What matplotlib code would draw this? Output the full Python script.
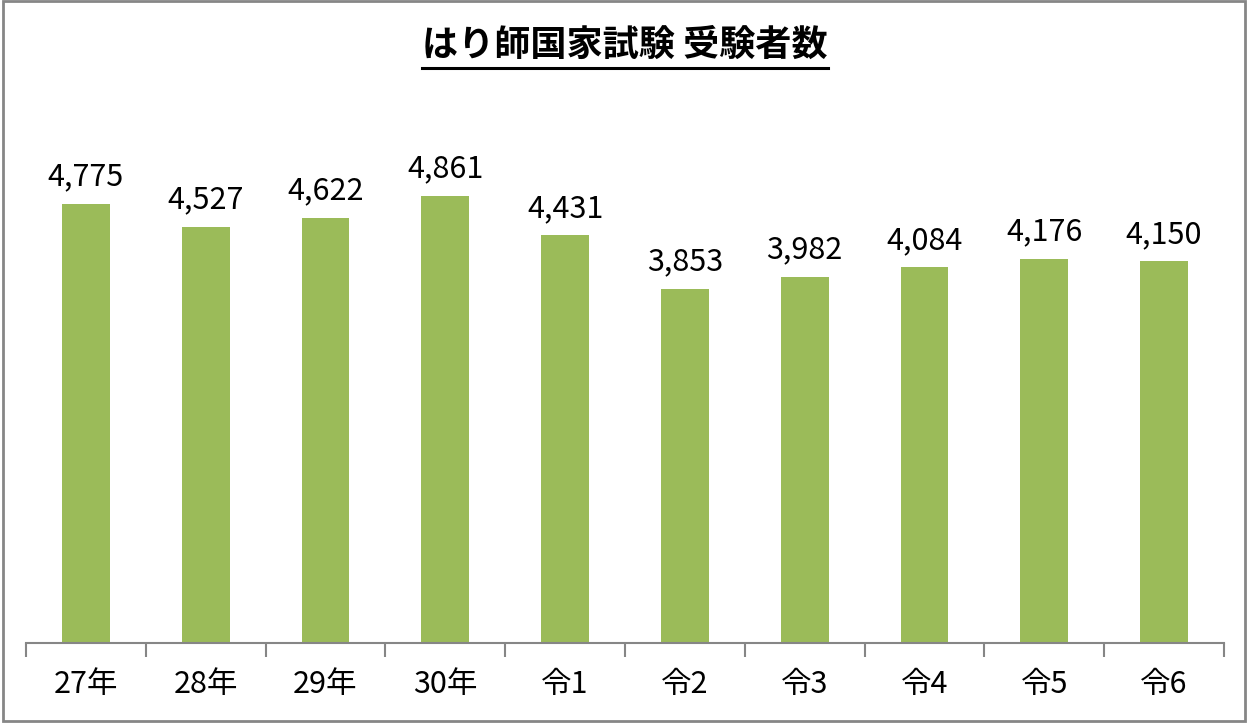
import matplotlib
matplotlib.use("Agg")
import matplotlib.pyplot as plt
from matplotlib.patches import Rectangle
from matplotlib.lines import Line2D

plt.rcParams["font.family"] = ["Noto Sans CJK JP", "DejaVu Sans"]

# ---- データ ----
categories = ["27年", "28年", "29年", "30年", "令1", "令2", "令3", "令4", "令5", "令6"]
examinees = [4775, 4527, 4622, 4861, 4431, 3853, 3982, 4084, 4176, 4150]
title = "はり師国家試験 受験者数"

BAR_COLOR = "#9BBB59"
AXIS_COLOR = "#868686"

fig = plt.figure(figsize=(12.5, 7.25), dpi=100)
ax = fig.add_axes([0.0208, 0.1131, 0.9584, 0.7614])

x = list(range(len(categories)))
bars = ax.bar(x, examinees, width=0.40, color=BAR_COLOR, zorder=2)

for b, v in zip(bars, examinees):
    ax.annotate("{:,}".format(v), (b.get_x() + b.get_width() / 2, v),
                xytext=(0, 8), textcoords="offset points",
                ha="center", va="bottom", fontsize=22)

ax.set_xlim(-0.5, len(categories) - 0.5)
ax.set_ylim(0, 6000)
for s in ["top", "left", "right"]:
    ax.spines[s].set_visible(False)
ax.spines["bottom"].set_color(AXIS_COLOR)
ax.spines["bottom"].set_linewidth(1.5)
ax.set_yticks([])
ax.set_xticks(x)
ax.set_xticklabels(categories, fontsize=22)
ax.tick_params(axis="x", length=0, pad=19)

# 区切り目盛り (カテゴリ境界)
ax.set_xticks([i - 0.5 for i in range(len(categories) + 1)], minor=True)
ax.tick_params(axis="x", which="minor", length=10, width=1.5, color=AXIS_COLOR)

# タイトル + 下線
t = fig.text(0.5, 1 - 45 / 725, title, ha="center", va="center",
             fontsize=26, fontweight="bold")
fig.canvas.draw()
bb = t.get_window_extent().transformed(fig.transFigure.inverted())
uy = 1 - 68 / 725
fig.add_artist(Line2D([bb.x0, bb.x1], [uy, uy], color="black", lw=2.2,
                      transform=fig.transFigure))

# 外枠
frame = Rectangle((3 / 1250, 4 / 725), 1242 / 1250, 720 / 725,
                  transform=fig.transFigure, fill=False,
                  edgecolor=AXIS_COLOR, lw=2)
fig.add_artist(frame)

fig.savefig("out.png", dpi=100, facecolor="white")
